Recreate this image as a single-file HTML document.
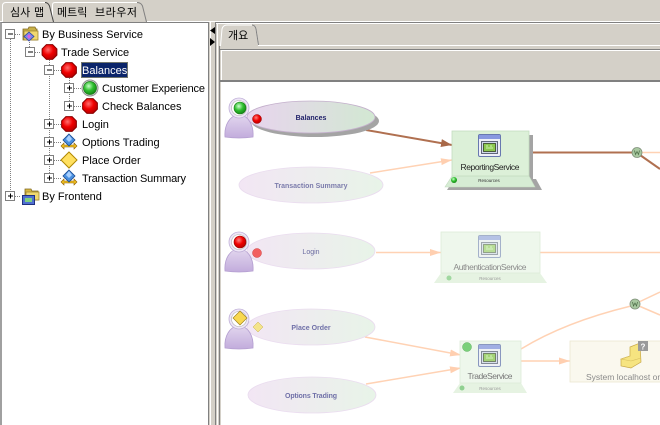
<!DOCTYPE html>
<html><head><meta charset="utf-8"><style>
html,body{margin:0;padding:0}
body{width:660px;height:425px;overflow:hidden;background:#d4d0c8;position:relative;font-family:"Liberation Sans","Noto Sans CJK KR",sans-serif}
.abs{position:absolute}
</style></head><body>

<!-- top tabs -->
<svg class="abs" style="left:0;top:0" width="660" height="24" viewBox="0 0 660 24">
  <line x1="0" y1="21.5" x2="660" y2="21.5" stroke="#ffffff"/>
  <path d="M52,22 L52,5 Q52,2 55,2 L137,2 Q141,2 143,6 L147,22 Z" fill="#d4d0c8"/>
  <path d="M52.5,22 L52.5,5 Q52.5,2.5 55,2.5 L137,2.5" fill="none" stroke="#ffffff"/>
  <path d="M137,2.5 Q141,2.5 142.5,6 L146.5,22" fill="none" stroke="#808080"/>
  <path d="M2,23 L2,6 Q2,2 6,2 L45,2 Q48,2 49.5,6 L54,23 Z" fill="#d4d0c8"/>
  <path d="M2.5,23 L2.5,6 Q2.5,2.5 6,2.5 L45,2.5" fill="none" stroke="#ffffff"/>
  <path d="M45,2.5 Q48,2.5 49.5,6 L53.5,22" fill="none" stroke="#404040"/>
  <text x="10" y="16" font-size="11" fill="#000" font-family="Liberation Sans, Noto Sans CJK KR, sans-serif">심사</text>
  <text x="34" y="16" font-size="11" fill="#000" font-family="Liberation Sans, Noto Sans CJK KR, sans-serif">맵</text>
  <text x="57" y="16" font-size="11" fill="#000" font-family="Liberation Sans, Noto Sans CJK KR, sans-serif">메트릭</text>
  <text x="95" y="16" font-size="11" fill="#000" font-family="Liberation Sans, Noto Sans CJK KR, sans-serif" textLength="42">브라우저</text>
</svg>

<!-- tree panel -->
<div class="abs" style="left:0;top:22px;height:403px;background:#fff;border-top:1px solid #808080;border-left:2px solid #a0a0a0;border-right:1px solid #808080;box-sizing:border-box;width:209px"></div>

<svg class="abs" style="left:0;top:0" width="210" height="425" viewBox="0 0 210 425" font-family="Liberation Sans, sans-serif">
  <defs>
    <radialGradient id="rg" cx="0.4" cy="0.35" r="0.7">
      <stop offset="0" stop-color="#ff7070"/><stop offset="0.5" stop-color="#f00000"/><stop offset="1" stop-color="#b00000"/>
    </radialGradient>
    <radialGradient id="gg" cx="0.4" cy="0.35" r="0.7">
      <stop offset="0" stop-color="#c8ffc8"/><stop offset="0.5" stop-color="#30c030"/><stop offset="1" stop-color="#108010"/>
    </radialGradient>
    <g id="oct">
      <polygon points="7.4,3.1 3.1,7.4 -3.1,7.4 -7.4,3.1 -7.4,-3.1 -3.1,-7.4 3.1,-7.4 7.4,-3.1" fill="url(#rg)" stroke="#8a0000" stroke-width="1"/>
    </g>
    <g id="grn">
      <circle r="8" fill="#e0e0e0" stroke="#909090"/>
      <circle r="6.5" fill="url(#gg)" stroke="#1e7a1e" stroke-width="0.8"/>
    </g>
    <g id="bdia">
      <polygon points="-8,4 -5,1 -5,3 5,3 5,1 8,4 5,7 5,5 -5,5 -5,7" fill="#f0c020" stroke="#906000" stroke-width="0.6"/>
      <polygon points="0,-8 6,-2 0,4 -6,-2" fill="#4a90e0" stroke="#1a4a90" stroke-width="0.8"/>
      <polygon points="0,-7 3,-3 0,0 -3,-3" fill="#a8d0ff"/>
    </g>
    <g id="ydia">
      <polygon points="0,-8 8,0 0,8 -8,0" fill="#ffe060" stroke="#b08800" stroke-width="1"/>
    </g>
    <g id="expm">
      <rect x="-4.5" y="-4.5" width="9" height="9" fill="#fff" stroke="#808080"/>
      <line x1="-2" y1="0" x2="3" y2="0" stroke="#000"/>
    </g>
    <g id="expp">
      <rect x="-4.5" y="-4.5" width="9" height="9" fill="#fff" stroke="#808080"/>
      <line x1="-2" y1="0" x2="3" y2="0" stroke="#000"/>
      <line x1="0.5" y1="-2.5" x2="0.5" y2="2.5" stroke="#000"/>
    </g>
  </defs>
  <g stroke="#808080" stroke-dasharray="1,1" fill="none">
    <line x1="10.5" y1="39" x2="10.5" y2="192"/>
    <line x1="29.5" y1="42" x2="29.5" y2="48"/>
    <line x1="49.5" y1="60" x2="49.5" y2="174"/>
    <line x1="69.5" y1="78" x2="69.5" y2="102"/>
    <line x1="15" y1="34.5" x2="21" y2="34.5"/>
    <line x1="35" y1="52.5" x2="41" y2="52.5"/>
    <line x1="54" y1="70.5" x2="61" y2="70.5"/>
    <line x1="74" y1="88.5" x2="82" y2="88.5"/>
    <line x1="74" y1="106.5" x2="82" y2="106.5"/>
    <line x1="54" y1="124.5" x2="61" y2="124.5"/>
    <line x1="54" y1="142.5" x2="61" y2="142.5"/>
    <line x1="54" y1="160.5" x2="61" y2="160.5"/>
    <line x1="54" y1="178.5" x2="61" y2="178.5"/>
    <line x1="15" y1="196.5" x2="21" y2="196.5"/>
  </g>
  <use href="#expm" x="10" y="34"/>
  <use href="#expm" x="30" y="52"/>
  <use href="#expm" x="49" y="70"/>
  <use href="#expp" x="69" y="88"/>
  <use href="#expp" x="69" y="106"/>
  <use href="#expp" x="49" y="124"/>
  <use href="#expp" x="49" y="142"/>
  <use href="#expp" x="49" y="160"/>
  <use href="#expp" x="49" y="178"/>
  <use href="#expp" x="10" y="196"/>

  <!-- folder By Business Service -->
  <g transform="translate(22,26)">
    <path d="M1,3 L6,3 L7,1 L13,1 L14,3 L15,3 L15,14 L1,14 Z" fill="#c8b048" stroke="#806820" stroke-width="0.8"/>
    <rect x="2" y="5" width="14" height="9" fill="#f0d870" stroke="#a08830" stroke-width="0.8"/>
    <polygon points="7,6 12,10.5 7,15 2,10.5" fill="#7a8ae8" stroke="#3040a0" stroke-width="0.8"/>
    <polygon points="7,8 9,10.5 7,13 5,10.5" fill="#e060e0"/>
  </g>
  <use href="#oct" x="49.5" y="52"/>
  <use href="#oct" x="69" y="70"/>
  <use href="#grn" x="90" y="88"/>
  <use href="#oct" x="90" y="106"/>
  <use href="#oct" x="69" y="124"/>
  <use href="#bdia" x="69" y="142"/>
  <use href="#ydia" x="69" y="160"/>
  <use href="#bdia" x="69" y="178"/>
  <!-- folder By Frontend -->
  <g transform="translate(22,188)">
    <path d="M3,1 L9,1 L10,3 L16,3 L16,12 L3,12 Z" fill="#d8b840" stroke="#806820" stroke-width="0.8"/>
    <rect x="4" y="4" width="13" height="8" fill="#f0d870" stroke="#a08830" stroke-width="0.8"/>
    <rect x="0.5" y="7.5" width="12" height="9" fill="#5070d0" stroke="#203080"/>
    <rect x="3" y="10" width="7" height="4" fill="#80d080"/>
  </g>

  <rect x="81" y="62" width="47" height="16" fill="#0a246a"/>
  <rect x="81.5" y="62.5" width="46" height="15" fill="none" stroke="#d8c870" stroke-dasharray="1,1"/>

  <g font-size="11" fill="#000">
    <text x="42" y="38" textLength="101">By Business Service</text>
    <text x="61" y="56">Trade Service</text>
    <text x="82" y="74" fill="#fff">Balances</text>
    <text x="102" y="92" textLength="103">Customer Experience</text>
    <text x="102" y="110">Check Balances</text>
    <text x="82" y="128">Login</text>
    <text x="82" y="146">Options Trading</text>
    <text x="82" y="164">Place Order</text>
    <text x="82" y="182" textLength="104">Transaction Summary</text>
    <text x="42" y="200">By Frontend</text>
  </g>
</svg>

<!-- splitter / frame lines -->
<svg class="abs" style="left:208px;top:0" width="452" height="425" viewBox="208 0 452 425">
  <line x1="210.5" y1="22" x2="210.5" y2="425" stroke="#ffffff"/>
  <polygon points="215,27 210,30.5 215,34" fill="#000"/>
  <polygon points="210,38 215,42 210,46" fill="#000"/>
  <line x1="215.5" y1="22" x2="215.5" y2="425" stroke="#808080"/>
  <line x1="217.5" y1="23" x2="217.5" y2="425" stroke="#ffffff"/>
  <line x1="215" y1="22.5" x2="660" y2="22.5" stroke="#808080"/>
  <line x1="216" y1="23.5" x2="660" y2="23.5" stroke="#ffffff"/>
  <!-- tab 개요 -->
  <path d="M220.5,46 L222,29 Q223,25 227,25 L252,25 Q255,25 256,29 L258.5,45" fill="#d4d0c8" stroke="#ffffff"/>
  <path d="M252,25 Q255,25 256,29 L258.5,45" fill="none" stroke="#808080"/>
  <line x1="258" y1="45.5" x2="660" y2="45.5" stroke="#ffffff"/>
  <text x="228" y="39" font-size="11" fill="#000" font-family="Liberation Sans, Noto Sans CJK KR, sans-serif">개요</text>
  <line x1="219.5" y1="46" x2="219.5" y2="425" stroke="#808080"/>
  <line x1="219" y1="49.5" x2="660" y2="49.5" stroke="#808080"/>
  <line x1="221" y1="50.5" x2="660" y2="50.5" stroke="#ffffff"/>
  <line x1="221.5" y1="50" x2="221.5" y2="81" stroke="#ffffff"/>
  <rect x="220" y="80" width="440" height="2" fill="#808080"/>
</svg>

<!-- canvas -->
<svg class="abs" style="left:221px;top:82px" width="439" height="343" viewBox="221 82 439 343" font-family="Liberation Sans, sans-serif">
  <defs>
    <linearGradient id="ea" x1="0" y1="0" x2="1" y2="0">
      <stop offset="0" stop-color="#e8d4ee"/><stop offset="1" stop-color="#d2e8d2"/>
    </linearGradient>
    <linearGradient id="ef" x1="0" y1="0" x2="1" y2="0">
      <stop offset="0" stop-color="#f2e6f4"/><stop offset="1" stop-color="#e8f4e8"/>
    </linearGradient>
    <linearGradient id="pb" x1="0" y1="0" x2="0" y2="1">
      <stop offset="0" stop-color="#e2d6ee"/><stop offset="1" stop-color="#c2acdc"/>
    </linearGradient>
    <radialGradient id="rg2" cx="0.4" cy="0.35" r="0.7">
      <stop offset="0" stop-color="#ff8080"/><stop offset="0.5" stop-color="#f00000"/><stop offset="1" stop-color="#b00000"/>
    </radialGradient>
    <radialGradient id="gg2" cx="0.4" cy="0.35" r="0.7">
      <stop offset="0" stop-color="#d0ffd0"/><stop offset="0.5" stop-color="#30c030"/><stop offset="1" stop-color="#108010"/>
    </radialGradient>
    <marker id="ab" markerUnits="userSpaceOnUse" markerWidth="12" markerHeight="9" refX="11" refY="4.5" orient="auto">
      <path d="M0,0.5 L11,4.5 L0,8.5 z" fill="#a86848"/>
    </marker>
    <marker id="ap" markerUnits="userSpaceOnUse" markerWidth="12" markerHeight="9" refX="11" refY="4.5" orient="auto">
      <path d="M0,1 L11,4.5 L0,8 z" fill="#ffcfb0"/>
    </marker>
    <g id="person">
      <path d="M-14,39 C-15,27 -9,17 0,17 C9,17 15,27 14,39 Q0,41 -14,39 Z" fill="url(#pb)" stroke="#b49ed0" stroke-width="0.8"/>
      <circle cx="0" cy="10" r="10" fill="#eee6f6" stroke="#c0b0d8" stroke-width="0.8"/>
      <circle cx="0" cy="10" r="7.5" fill="#ffffff" stroke="#b0b0b0" stroke-width="0.6"/>
    </g>
    <g id="win">
      <rect x="0.5" y="0.5" width="22" height="22" rx="1.5" fill="#eef0f8" stroke="#6878b0"/>
      <rect x="1" y="1" width="21" height="4" fill="#8898e0"/>
      <rect x="3.5" y="7.5" width="16" height="12" fill="#d0d8ec" stroke="#404860" stroke-width="0.8"/>
      <rect x="5.5" y="9.5" width="12" height="8" fill="#8cc850" stroke="#304020" stroke-width="0.8"/>
      <path d="M8,12 L10,12 M12,12 L14,12 M8,14 L15,14" stroke="#e0ffd0" stroke-width="0.8"/>
    </g>
    <g id="wnode">
      <circle r="5" fill="#a8c8a0" stroke="#80907a" stroke-width="0.8"/>
      <path d="M-2.5,-2 L-1.5,2 L0,-1 L1.5,2 L2.5,-2" fill="none" stroke="#4a6a44" stroke-width="0.7"/>
    </g>
  </defs>
  <rect x="221" y="82" width="439" height="343" fill="#ffffff"/>

  <!-- edges -->
  <line x1="366" y1="130" x2="452" y2="145" stroke="#b07050" stroke-width="2" marker-end="url(#ab)"/>
  <line x1="370" y1="173" x2="452" y2="160" stroke="#ffd2b4" stroke-width="1.5" marker-end="url(#ap)"/>
  <line x1="529" y1="152.5" x2="632" y2="152.5" stroke="#b07050" stroke-width="2"/>
  <line x1="641" y1="152.5" x2="660" y2="152.5" stroke="#ffd2b4" stroke-width="1.5"/>
  <line x1="640" y1="155" x2="660" y2="169" stroke="#b07050" stroke-width="2"/>
  <line x1="376" y1="252.5" x2="441" y2="252.5" stroke="#ffd2b4" stroke-width="1.5" marker-end="url(#ap)"/>
  <line x1="540" y1="252.5" x2="660" y2="252.5" stroke="#ffd2b4" stroke-width="1.5"/>
  <line x1="365" y1="337" x2="461" y2="355" stroke="#ffd2b4" stroke-width="1.5" marker-end="url(#ap)"/>
  <line x1="366" y1="384" x2="461" y2="368" stroke="#ffd2b4" stroke-width="1.5" marker-end="url(#ap)"/>
  <line x1="521" y1="361" x2="570" y2="361" stroke="#ffd2b4" stroke-width="1.5" marker-end="url(#ap)"/>
  <path d="M521,349 Q565,322 631,306" fill="none" stroke="#ffd2b4" stroke-width="1.5"/>
  <line x1="639" y1="302" x2="660" y2="292" stroke="#ffd2b4" stroke-width="1.5"/>
  <line x1="639" y1="306" x2="660" y2="315" stroke="#ffd2b4" stroke-width="1.5"/>

  <!-- Balances -->
  <ellipse cx="315" cy="121" rx="64" ry="16" fill="#a4a4a4"/>
  <ellipse cx="311" cy="117" rx="64" ry="16" fill="url(#ea)" stroke="#c4b0cc" stroke-width="0.8"/>
  <text x="311" y="120" font-size="7" font-weight="bold" fill="#22226a" text-anchor="middle">Balances</text>
  <use href="#person" x="239" y="98"/>
  <circle cx="240" cy="108" r="6" fill="url(#gg2)" stroke="#1a7a1a" stroke-width="0.6"/>
  <circle cx="257" cy="119" r="4.5" fill="url(#rg2)" stroke="#900" stroke-width="0.5"/>

  <!-- Transaction Summary -->
  <ellipse cx="311" cy="185" rx="72" ry="18" fill="url(#ef)" stroke="#eadcef" stroke-width="0.8"/>
  <text x="311" y="188" font-size="7" font-weight="bold" fill="#7c7cac" text-anchor="middle" textLength="73">Transaction Summary</text>

  <!-- ReportingService -->
  <polygon points="454,179 536,179 542,190 447,190" fill="#a4a4a4"/>
  <rect x="455" y="135" width="78" height="45" fill="#a4a4a4"/>
  <polygon points="452,176 529,176 535,187 445,187" fill="#d6ecd4" stroke="#c4dcc0" stroke-width="0.6"/>
  <rect x="452" y="131" width="77" height="45" fill="#dcf0d8" stroke="#c4dcc0" stroke-width="0.8"/>
  <use href="#win" x="478" y="134"/>
  <text x="490" y="170" font-size="8.5" fill="#222" text-anchor="middle" textLength="59">ReportingService</text>
  <circle cx="454" cy="180" r="3" fill="url(#gg2)"/>
  <text x="489" y="182" font-size="4.5" fill="#333" text-anchor="middle">Resources</text>

  <use href="#wnode" x="637" y="152.5"/>

  <!-- Login -->
  <ellipse cx="311" cy="251" rx="64" ry="18" fill="url(#ef)" stroke="#eadcef" stroke-width="0.8"/>
  <text x="311" y="254" font-size="7" fill="#6a6aa0" text-anchor="middle">Login</text>
  <use href="#person" x="239" y="232"/>
  <circle cx="240" cy="242" r="6" fill="url(#rg2)" stroke="#900" stroke-width="0.6"/>
  <circle cx="257" cy="253" r="4.5" fill="#f26060" stroke="#d04040" stroke-width="0.5"/>

  <!-- AuthenticationService -->
  <polygon points="441,273 540,273 547,283 434,283" fill="#e6f3e2"/>
  <rect x="441" y="232" width="99" height="41" fill="#eef7ec" stroke="#dcecd8" stroke-width="0.8"/>
  <g opacity="0.55"><use href="#win" x="478" y="235"/></g>
  <text x="490" y="270" font-size="8.5" fill="#8a8a8a" text-anchor="middle" textLength="73">AuthenticationService</text>
  <circle cx="449" cy="278" r="2.5" fill="#a0d8a0"/>
  <text x="490" y="280" font-size="4.5" fill="#999" text-anchor="middle">Resources</text>

  <!-- Place Order -->
  <ellipse cx="311" cy="327" rx="64" ry="18" fill="url(#ef)" stroke="#eadcef" stroke-width="0.8"/>
  <text x="311" y="330" font-size="7" font-weight="bold" fill="#7070a8" text-anchor="middle">Place Order</text>
  <use href="#person" x="239" y="309"/>
  <polygon points="240,311 247,318 240,325 233,318" fill="#f8d850" stroke="#a08020" stroke-width="0.7"/>
  <polygon points="258,322 263,327 258,332 253,327" fill="#f4e48a" stroke="#c8b050" stroke-width="0.5"/>

  <!-- Options Trading -->
  <ellipse cx="312" cy="395" rx="64" ry="18" fill="url(#ef)" stroke="#eadcef" stroke-width="0.8"/>
  <text x="311" y="398" font-size="7" font-weight="bold" fill="#7070a8" text-anchor="middle" textLength="52">Options Trading</text>

  <!-- TradeService -->
  <polygon points="460,383 521,383 527,393 453,393" fill="#e6f3e2"/>
  <rect x="460" y="341" width="61" height="42" fill="#eef7ec" stroke="#dcecd8" stroke-width="0.8"/>
  <g opacity="0.75"><use href="#win" x="478" y="344"/></g>
  <circle cx="467" cy="347" r="4.5" fill="#7ad07a" stroke="#60b060" stroke-width="0.5"/>
  <text x="490" y="379" font-size="8.5" fill="#777" text-anchor="middle" textLength="45">TradeService</text>
  <circle cx="462" cy="388" r="2.5" fill="#90d090"/>
  <text x="490" y="390" font-size="4.5" fill="#999" text-anchor="middle">Resources</text>

  <use href="#wnode" x="635" y="304"/>

  <!-- System -->
  <rect x="570" y="341" width="100" height="41" fill="#faf8ee" stroke="#ece6d0" stroke-width="0.8"/>
  <path d="M630,347 L640,343 L641,362 L631,368 L621,366 L621,359 L630,356 Z" fill="#f6e480" stroke="#c8a848" stroke-width="0.7"/>
  <path d="M630,347 L630,356 L621,359 L631,361 L641,358" fill="none" stroke="#d8c060" stroke-width="0.6"/>
  <rect x="638" y="341" width="10" height="10" fill="#9a9a9a"/>
  <text x="643" y="349.5" font-size="8" font-weight="bold" fill="#fff" text-anchor="middle">?</text>
  <text x="586" y="380" font-size="8.5" fill="#8a8a8a">System localhost on p</text>
</svg>

</body></html>
